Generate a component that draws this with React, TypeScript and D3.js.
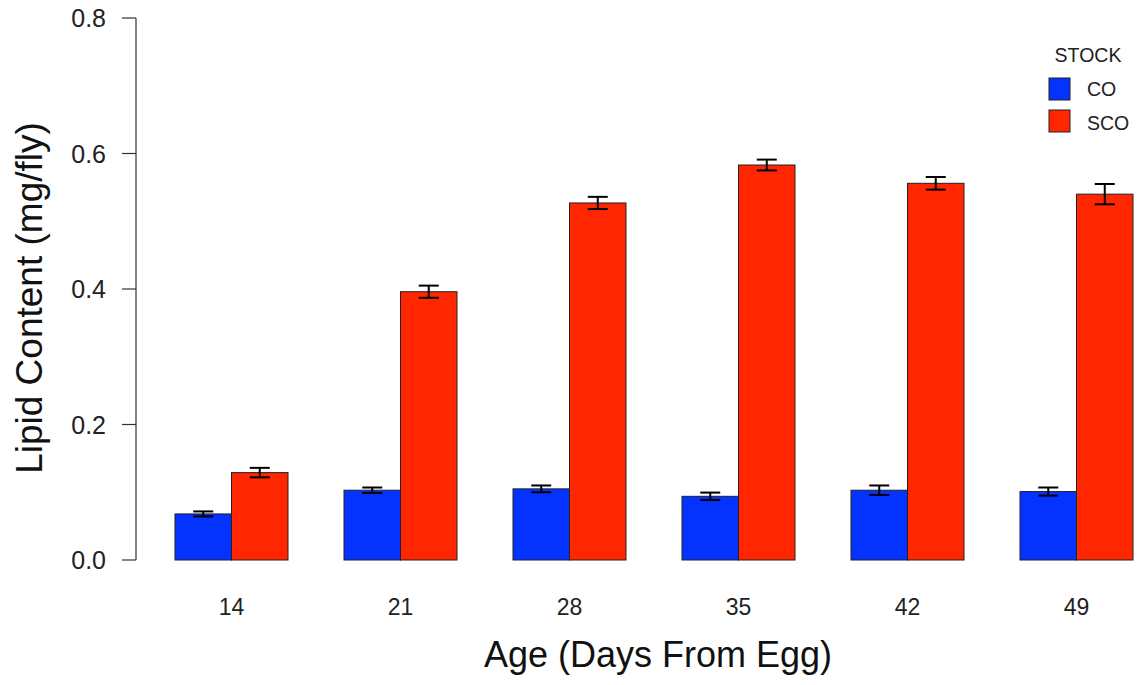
import React from "react";
import * as d3 from "d3";

const ages = ["14", "21", "28", "35", "42", "49"];
const stocks = ["CO", "SCO"];
const coMeans = [0.068, 0.103, 0.105, 0.094, 0.103, 0.101];
const coErr = [0.0037, 0.004, 0.005, 0.0055, 0.007, 0.006];
const scoMeans = [0.129, 0.396, 0.527, 0.583, 0.556, 0.54];
const scoErr = [0.007, 0.009, 0.009, 0.008, 0.0093, 0.015];
const yTicks = [0, 0.2, 0.4, 0.6, 0.8];
const colors = ["#0433FF", "#FF2600"];

const W = 1140;
const H = 685;
const FONT = "Liberation Sans, Arial, Helvetica, sans-serif";

export default function App() {
  const y = d3.scaleLinear().domain([0, 0.8]).range([560, 18]);
  // each group: 2 bars then 1 bar-width of space
  const x0 = d3.scaleBand().domain(ages).range([175, 175 + 169 * 6]).paddingInner(0).paddingOuter(0);
  const x1 = d3.scaleBand().domain(stocks).range([0, 113]);
  const series = [
    { key: "CO", means: coMeans, errs: coErr },
    { key: "SCO", means: scoMeans, errs: scoErr },
  ];
  const capW = 10;
  return (
    <svg width={W} height={H} style={{ position: "absolute", left: 0, top: 0, background: "#fff" }} fontFamily={FONT}>
      {/* y axis */}
      <line x1={136} x2={136} y1={y(0)} y2={y(0.8)} stroke="#333" strokeWidth={1.2} />
      {yTicks.map((t) => (
        <g key={t}>
          <line x1={122} x2={136} y1={y(t)} y2={y(t)} stroke="#333" strokeWidth={1.2} />
          <text x={106} y={y(t)} dy="0.36em" textAnchor="end" fontSize={25} fill="#222">
            {t.toFixed(1)}
          </text>
        </g>
      ))}
      <text transform={`translate(42,${298}) rotate(-90)`} textAnchor="middle" fontSize={37} fill="#111">
        Lipid Content (mg/fly)
      </text>
      {/* bars */}
      {series.map((s, si) =>
        ages.map((a, i) => {
          const xb = (x0(a) as number) + (x1(s.key) as number);
          const w = x1.bandwidth();
          const v = s.means[i];
          return (
            <rect key={s.key + a} x={xb} y={y(v)} width={w} height={y(0) - y(v)} fill={colors[si]} stroke="#222" strokeWidth={1} />
          );
        })
      )}
      {series.map((s) =>
        ages.map((a, i) => {
          const xc = (x0(a) as number) + (x1(s.key) as number) + x1.bandwidth() / 2;
          const v = s.means[i];
          const e = s.errs[i];
          return (
            <g key={"e" + s.key + a} stroke="#000" strokeWidth={2}>
              <line x1={xc} x2={xc} y1={y(v - e)} y2={y(v + e)} />
              <line x1={xc - capW} x2={xc + capW} y1={y(v - e)} y2={y(v - e)} />
              <line x1={xc - capW} x2={xc + capW} y1={y(v + e)} y2={y(v + e)} />
            </g>
          );
        })
      )}
      {/* x labels */}
      {ages.map((a) => (
        <text key={"xl" + a} x={(x0(a) as number) + 56.5} y={615} textAnchor="middle" fontSize={23} fill="#222">
          {a}
        </text>
      ))}
      <text x={658} y={667} textAnchor="middle" fontSize={36} fill="#111">
        Age (Days From Egg)
      </text>
      {/* legend */}
      <text x={1088} y={62} textAnchor="middle" fontSize={19.5} fill="#222">
        STOCK
      </text>
      {stocks.map((k, i) => (
        <g key={"lg" + k}>
          <rect x={1049} y={78 + i * 32} width={21} height={22} fill={colors[i]} stroke="#222" strokeWidth={1} />
          <text x={1087} y={96 + i * 34} fontSize={19.5} fill="#222">
            {k}
          </text>
        </g>
      ))}
    </svg>
  );
}
